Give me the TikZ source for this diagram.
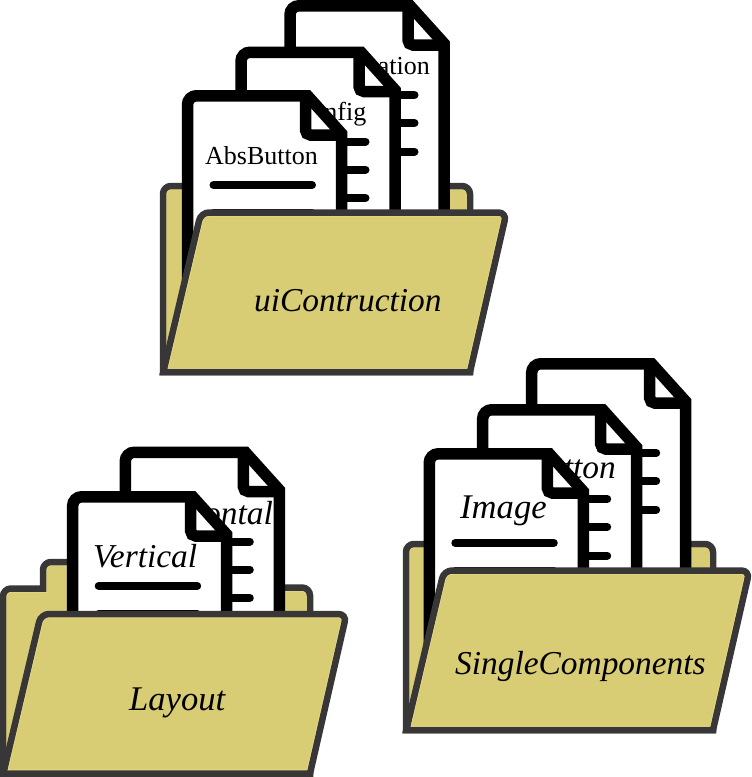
\documentclass[tikz,border=0pt]{standalone}
\usepackage{fontspec}
\setmainfont{Liberation Serif}
\definecolor{foldfill}{HTML}{D8CC74}
\definecolor{foldedge}{HTML}{383636}
\definecolor{foldlight}{HTML}{F0E48C}
\tikzset{
  sheetline/.style={draw=black,line width=11.5pt,line join=miter,miter limit=4},
  sheetbar/.style={draw=black,line width=8pt,line cap=round},
  foldline/.style={draw=foldedge,line width=6.5pt,line join=miter},
  label/.style={anchor=base west,inner sep=0pt,text=black,font=\fontsize{26}{26}\selectfont},
  ilabel/.style={anchor=base west,inner sep=0pt,text=black,font=\fontsize{33.4}{34}\selectfont\itshape},
  cutlabel/.style={anchor=base east,inner sep=0pt,text=black},
}
\newcommand{\docsheet}[2]{%
  \begin{scope}[shift={(#1,#2)}]
    \fill[white] (6,240) -- (6,6) -- (124,6) -- (160,45) -- (160,240) -- cycle;
    \draw[sheetline] (6,240) [rounded corners=9pt]-- (6,5.75) [sharp corners]-- (126,5.75) -- (160,43.5) -- (160,240);
    \draw[sheetline] (124,5.75) [rounded corners=5pt]-- (124,45) [sharp corners]-- (163,45);
    \draw[sheetbar] (32,95) -- (130.5,95);
    \draw[sheetbar] (32,123) -- (130.5,123);
    \draw[sheetbar] (32,151.5) -- (130.5,151.5);
  \end{scope}}
\newcommand{\foldpart}[1]{%
  \fill[foldfill] #1;
  \begin{scope}\clip #1;\draw[foldlight,line width=7.8pt] #1;\end{scope}
  \draw[foldline] #1;}
\newcommand{\flap}{(163.3,372) [rounded corners=8pt]-- (201,212.5) -- (506.5,212.5) [sharp corners]-- (470,372) -- cycle}
\newcommand{\plainback}{(163,372) [rounded corners=8pt]-- (163,186) -- (470,186) [sharp corners]-- (470,372) -- cycle}
\newcommand{\tabback}{(163,372) [rounded corners=8pt]-- (163,187) [sharp corners]-- (203,187) [rounded corners=8pt]-- (203,160.5) -- (280,160.5) [sharp corners]-- (280,186) [rounded corners=8pt]-- (470,186) [sharp corners]-- (470,372) -- cycle}
\begin{document}
\begin{tikzpicture}[x=1pt,y=-1pt]
\useasboundingbox (0,0) rectangle (752,777);
\clip (0,0) rectangle (752,777);
% uiContruction
\begin{scope}
  \foldpart{\plainback}
\end{scope}
\docsheet{284}{0}
\node[label,cutlabel] (animtext) at (430,74) {ation};
\docsheet{235}{46.5}
\node[label,cutlabel] (conftext) at (366.5,120) {nfig};
\docsheet{181.5}{90}
\node[label] (absbutton) at (205,164) {AbsButton};
\begin{scope}
  \foldpart{\flap}
\end{scope}
\node[ilabel] (uicon) at (254,311.5) {uiContruction};
% Layout
\begin{scope}[shift={(-160,401.5)}]
  \foldpart{\tabback}
\end{scope}
\docsheet{119.3}{446.5}
\node[ilabel,cutlabel] (horiz) at (273,524) {ontal};
\docsheet{66.7}{491}
\node[ilabel] (vertical) at (93,567) {Vertical};
\begin{scope}[shift={(-160,401.5)}]
  \foldpart{\flap}
\end{scope}
\node[ilabel,font=\fontsize{34.6}{35}\selectfont\itshape] (layouttxt) at (129,710) {Layout};
% SingleComponents
\begin{scope}[shift={(243,358)}]
  \foldpart{\plainback}
\end{scope}
\docsheet{525.7}{358}
\docsheet{476.7}{404}
\node[ilabel,cutlabel] (buttontxt) at (616,478) {tton};
\docsheet{423.3}{448}
\node[ilabel,font=\fontsize{34.6}{35}\selectfont\itshape] (imagetxt) at (460,518) {Image};
\begin{scope}[shift={(243,358)}]
  \foldpart{\flap}
\end{scope}
\node[ilabel] (singlecomp) at (455,674) {SingleComponents};
\end{tikzpicture}
\end{document}
